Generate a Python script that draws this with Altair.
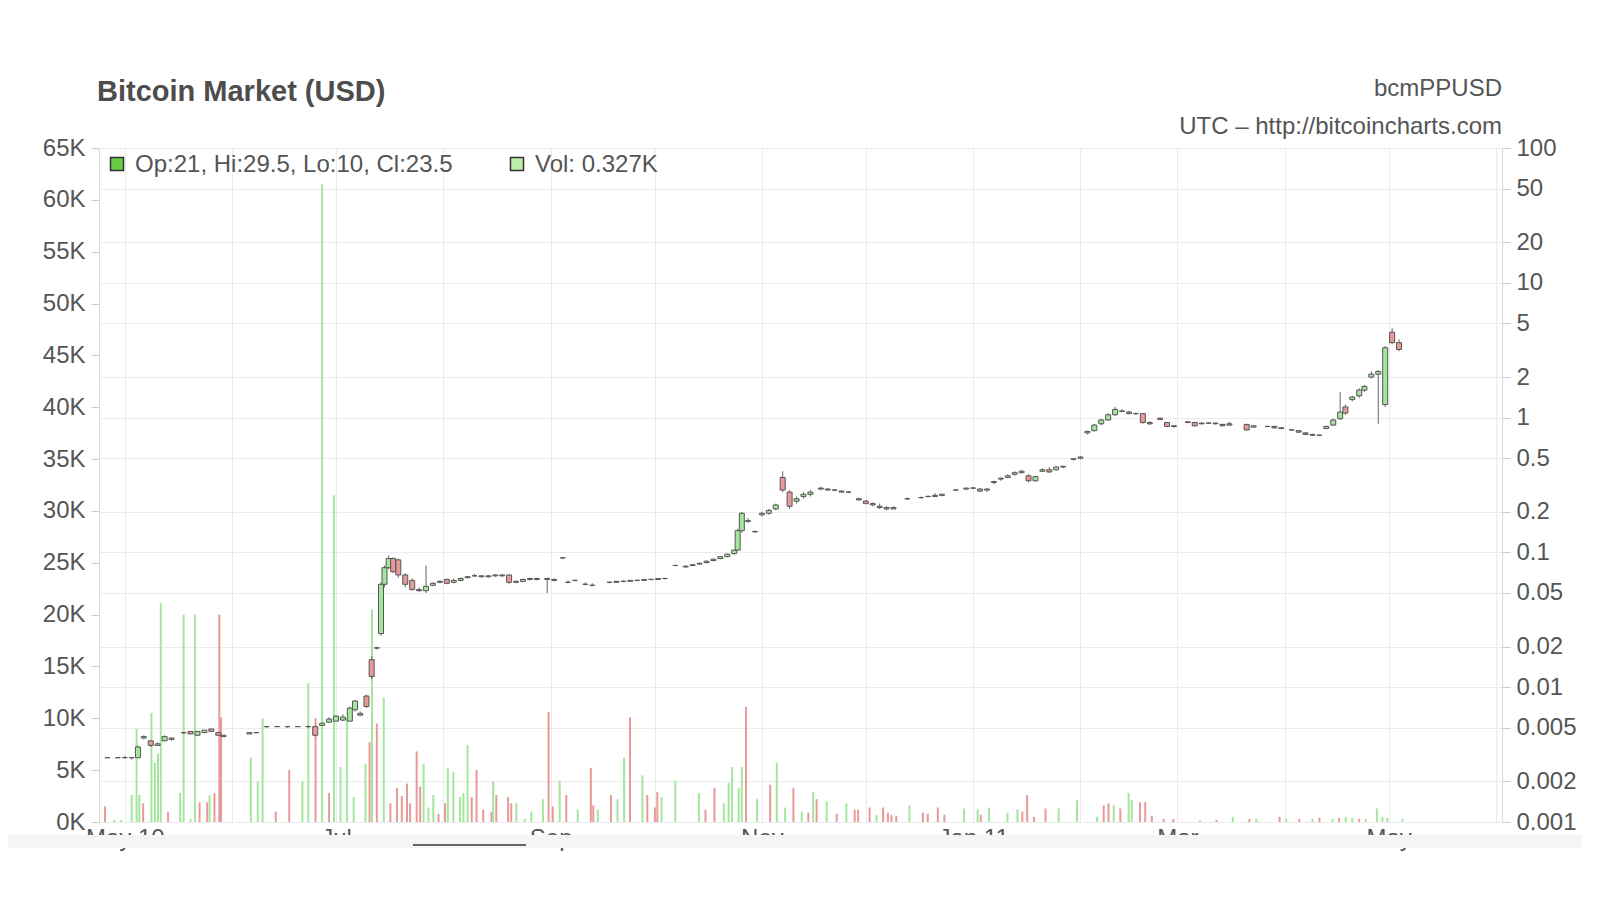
import altair as alt
import pandas as pd

START = pd.Timestamp("2010-04-25")

# ---------------- candles (day offset from START, USD prices) ----------------
c_day = [1, 4, 6, 8, 9.8, 11.5, 13.5, 15.5, 17.5, 19.5, 23, 25, 27, 29, 31, 33, 34.5,
         42, 44, 47, 50, 53, 56, 59, 61, 63, 65, 67, 69, 71, 72.5, 74, 75.8, 77.3, 78.8,
         80, 81, 82.2, 83.5, 85, 87, 89, 91, 93, 95, 97, 99, 101, 103, 105, 107, 109,
         111, 113, 115, 117, 119, 121, 123, 125, 128, 130, 132.5, 134, 136, 139, 141,
         146, 148, 150, 152, 154, 156, 158, 160, 162, 165, 168, 170, 172, 174, 176, 178,
         180, 182, 183, 184.2, 186, 188, 190, 192, 194, 196, 198, 200, 202, 204, 207,
         209, 211, 213, 215, 218, 220, 222, 224, 226, 228, 232, 236, 238, 240, 242, 246,
         249, 251, 253, 255, 257, 259, 261, 263, 265, 267, 269, 271, 273, 275, 277, 280,
         282, 284, 286, 288, 290, 292, 294, 296, 298, 300, 302, 305, 307, 309, 313, 315,
         317, 319, 321, 323, 325, 330, 332, 336, 338, 340, 343, 345, 347, 349, 351, 353,
         355, 357, 358.5, 360.5, 362.5, 364, 366, 368, 370, 372, 374]
c_open = [.0030, .0030, .0030, .0030, .0030, .0042, .0040, .0037, .0040, .0042, .0046, .0047, .0044, .0046, .0049, .0046, .0044,
          .0046, .0046, .0051, .0051, .0051, .0051, .0051, .0051, .0052, .0055, .0056, .0057, .0056, .0068, .0064, .0086, .0160, .0195,
          .025, .058, .077, .090, .088, .068, .062, .053, .052, .057, .060, .063, .060, .062, .065, .067, .067,
          .066, .067, .068, .068, .060, .061, .063, .064, .064, .062, .091, .060, .062, .058, .057,
          .060, .060, .061, .061, .062, .062, .063, .063, .064, .080, .078, .080, .082, .084, .087, .090,
          .093, .098, .104, .145, .170, .142, .190, .195, .210, .360, .280, .240, .260, .270, .300,
          .295, .290, .285, .280, .250, .240, .230, .220, .210, .215, .250, .255, .260, .265, .265, .290,
          .295, .300, .295, .290, .330, .350, .360, .380, .390, .370, .340, .400, .410, .410, .430, .490,
          .500, .770, .800, .900, .960, 1.05, 1.12, 1.10, 1.07, 1.07, .920, .990, .920, .860, .930, .920,
          .900, .910, .910, .890, .900, .890, .850, .860, .860, .840, .810, .800, .770, .750, .740, .830,
          .880, .980, 1.20, 1.36, 1.45, 1.60, 2.00, 2.10, 1.25, 4.30, 3.60]
c_high = [.0030, .0030, .0031, .0030, .0037, .0044, .0040, .0039, .0044, .0042, .0046, .0047, .0047, .0048, .0049, .0046, .0044,
          .0046, .0046, .0051, .0051, .0051, .0051, .0052, .0052, .0055, .0060, .0062, .0063, .0072, .0080, .0066, .0088, .0170, .0200,
          .060, .080, .095, .092, .090, .070, .064, .055, .080, .060, .062, .064, .064, .065, .067, .069, .068,
          .068, .069, .069, .069, .062, .064, .065, .065, .065, .064, .092, .062, .063, .060, .059,
          .061, .061, .062, .062, .063, .063, .064, .064, .065, .081, .080, .082, .084, .087, .090, .094,
          .098, .105, .150, .200, .180, .145, .200, .210, .230, .400, .290, .260, .280, .290, .305,
          .300, .295, .290, .285, .255, .245, .235, .230, .220, .220, .255, .260, .265, .275, .270, .295,
          .300, .305, .300, .300, .340, .360, .380, .400, .410, .380, .370, .420, .430, .435, .440, .500,
          .520, .800, .900, .980, 1.08, 1.20, 1.16, 1.12, 1.09, 1.08, .940, 1.00, .930, .880, .940, .930,
          .920, .920, .920, .900, .930, .900, .880, .870, .870, .850, .820, .810, .780, .760, .750, .870,
          .980, 1.55, 1.25, 1.45, 1.65, 1.75, 2.20, 2.25, 3.40, 4.60, 3.80]
c_low = [.0030, .0030, .0030, .0029, .0030, .0041, .0036, .0037, .0040, .0040, .0045, .0045, .0044, .0046, .0047, .0044, .0043,
         .0045, .0046, .0050, .0051, .0050, .0051, .0050, .0043, .0052, .0055, .0056, .0056, .0056, .0066, .0061, .0070, .0115, .0190,
         .024, .055, .075, .070, .065, .055, .052, .051, .050, .056, .059, .058, .059, .061, .064, .066, .065,
         .065, .066, .066, .058, .059, .060, .062, .062, .050, .061, .090, .059, .061, .057, .056,
         .059, .060, .060, .061, .061, .062, .062, .063, .063, .079, .077, .079, .081, .083, .086, .089,
         .092, .096, .103, .140, .165, .140, .185, .190, .205, .280, .210, .230, .250, .260, .290,
         .290, .285, .280, .275, .245, .230, .220, .210, .205, .210, .245, .250, .255, .260, .260, .285,
         .290, .295, .280, .280, .320, .340, .355, .370, .385, .330, .335, .395, .390, .405, .420, .480,
         .490, .750, .790, .880, .950, 1.03, 1.10, 1.06, 1.05, .900, .880, .960, .850, .840, .910, .860,
         .890, .900, .890, .860, .870, .800, .840, .850, .830, .820, .800, .770, .740, .730, .730, .820,
         .870, .960, 1.05, 1.32, 1.40, 1.55, 1.95, .900, 1.20, 3.50, 3.10]
c_close = [.0030, .0030, .0030, .0030, .0036, .0043, .0037, .0038, .0043, .0041, .0046, .0045, .0047, .0048, .0047, .0044, .0043,
           .0045, .0046, .0051, .0051, .0051, .0051, .0051, .0044, .0054, .0058, .0061, .0060, .0070, .0079, .0062, .0072, .0120, .0196,
           .058, .077, .090, .072, .068, .058, .053, .052, .056, .059, .061, .059, .062, .064, .066, .067, .066,
           .067, .068, .067, .060, .061, .063, .064, .063, .063, .063, .091, .060, .062, .058, .057,
           .060, .061, .061, .062, .062, .063, .063, .064, .064, .080, .079, .081, .083, .086, .089, .093,
           .097, .104, .145, .195, .172, .143, .195, .205, .225, .290, .220, .250, .270, .280, .295,
           .290, .290, .280, .280, .245, .230, .225, .215, .215, .210, .250, .255, .260, .260, .270, .290,
           .300, .300, .285, .295, .335, .355, .370, .390, .400, .340, .365, .410, .395, .430, .435, .495,
           .510, .790, .880, .960, 1.05, 1.15, 1.11, 1.07, 1.07, .920, .900, .970, .860, .870, .920, .870,
           .910, .910, .900, .870, .880, .810, .870, .860, .840, .830, .810, .780, .750, .740, .740, .860,
           .960, 1.10, 1.08, 1.42, 1.60, 1.70, 2.10, 2.20, 3.30, 3.60, 3.20]

# ---------------- volume (day offset, thousands, up/down) ----------------
v_day = [0.3, 3, 5, 8, 9.4, 10.2, 11.3, 13.7, 14.7, 15.6, 16.4, 18.5, 22, 23, 25, 26.3, 27.6, 29.8,
         30.5, 31.9, 33.3, 33.8, 42.4, 44.4, 45.8, 49.6, 53.5, 57.3, 59, 61.1, 63, 65, 66.4, 68.3,
         70.2, 72.1, 75.5, 76.7, 77.4, 78.8, 80.8, 82.7, 84.6, 86, 87.5, 88.4, 90.3, 91.3, 92.3, 93.7,
         95.1, 96.6, 98.5, 99.3, 100.9, 102.8, 103.8, 105, 106.2, 107.6, 109.5, 111.9, 112.4, 113.3,
         116.7, 117.6, 119.1, 121.5, 123.4, 126.8, 128.4, 129.6, 131.6, 133.5, 136.8, 140.6, 141.3,
         142.6, 146.4, 148.3, 150.2, 151.9, 155.5, 156.9, 159.1, 159.8, 161, 165, 171.8, 173.7, 176.3,
         179, 180.4, 181.4, 183.3, 184.2, 185.4, 188.6, 192.4, 194.3, 196.7, 199.1, 201.5, 203.4,
         204.8, 205.8, 208.7, 211.6, 214.4, 216.8, 217.8, 221.1, 223.1, 225, 226.4, 227.4, 228.8,
         232.6, 236.5, 237.9, 240.8, 242.7, 248.4, 252.3, 253.2, 255.6, 260.9, 263.8, 265.2, 266.6,
         268.6, 271.9, 275.7, 281, 286.8, 288.7, 290.1, 291.6, 293.5, 295.9, 296.8, 299.2, 300.7,
         302.6, 306, 308.8, 316.5, 321.3, 326, 330.8, 332.8, 339.5, 341.4, 345.2, 349, 351, 354.8,
         356.7, 358.6, 360.5, 362.5, 364.4, 367.6, 369.2, 370.6, 375]
v_k = [1.5, 0.2, 0.2, 2.6, 9.0, 2.6, 1.8, 10.5, 5.7, 6.6, 21.1, 1.0, 2.8, 20.0, 0.3, 20.0, 1.9, 1.9,
       2.6, 2.8, 20.0, 10.1, 6.2, 3.9, 10.0, 1.0, 5.0, 3.9, 13.4, 10.0, 61.5, 2.8, 31.5, 5.3,
       10.0, 2.4, 5.6, 7.7, 20.5, 9.5, 12.0, 1.8, 3.3, 2.5, 3.7, 1.8, 6.8, 3.4, 5.6, 1.4,
       2.6, 0.8, 1.8, 5.2, 4.8, 2.4, 2.8, 7.4, 2.4, 5.0, 1.2, 1.0, 3.9, 2.6,
       2.4, 1.8, 1.8, 0.3, 1.0, 2.2, 10.6, 1.5, 4.0, 2.6, 1.2, 5.2, 1.6,
       1.2, 2.6, 2.2, 6.2, 10.1, 4.5, 2.6, 1.4, 2.9, 2.4, 4.0, 2.8, 1.2, 3.3,
       1.8, 3.8, 5.3, 3.3, 5.3, 11.1, 2.2, 3.6, 5.7, 1.4, 3.3, 1.0, 0.9,
       2.9, 2.2, 2.0, 0.8, 1.8, 1.2, 1.2, 1.4, 0.7, 1.4, 0.9, 0.7, 0.6,
       1.6, 0.9, 0.8, 1.4, 0.7, 1.3, 1.2, 0.7, 1.4, 0.9, 1.2, 1.0, 2.6,
       0.5, 1.3, 1.3, 2.1, 0.5, 1.6, 1.8, 1.6, 1.3, 2.8, 2.1, 1.9, 1.9,
       0.6, 0.3, 0.3, 0.2, 0.2, 0.5, 0.3, 0.3, 0.5, 0.3, 0.3, 0.3, 0.4, 0.3,
       0.4, 0.5, 0.4, 0.3, 0.3, 1.3, 0.5, 0.4, 0.3]
v_dir = ["d", "u", "u", "u", "u", "u", "d", "u", "u", "u", "u", "d", "u", "u", "u", "u", "d", "d",
         "u", "d", "d", "d", "u", "u", "u", "d", "d", "u", "u", "d", "u", "d", "u", "u",
         "u", "u", "u", "d", "u", "d", "u", "d", "d", "d", "d", "d", "d", "d", "u", "u",
         "u", "d", "d", "u", "u", "u", "u", "u", "d", "d", "d", "d", "u", "d",
         "d", "d", "u", "u", "u", "u", "d", "d", "u", "d", "u", "d", "d",
         "u", "d", "u", "u", "d", "u", "d", "d", "d", "u", "u", "u", "d", "d",
         "u", "u", "u", "u", "u", "d", "u", "d", "u", "u", "d", "u", "d",
         "u", "d", "u", "d", "u", "d", "d", "d", "u", "d", "d", "d", "d",
         "u", "d", "d", "d", "d", "u", "u", "d", "u", "u", "u", "d", "d",
         "d", "d", "u", "u", "u", "d", "d", "u", "d", "u", "u", "d", "d",
         "d", "d", "d", "u", "d", "u", "d", "u", "d", "u", "d", "u", "d", "u",
         "d", "u", "u", "d", "u", "u", "u", "u", "u"]

price_ticks = [0.001, 0.002, 0.005, 0.01, 0.02, 0.05, 0.1, 0.2, 0.5, 1, 2, 5, 10, 20, 50, 100]
vol_ticks = list(range(0, 66, 5))
month_ticks = [(2010, 5), (2010, 6), (2010, 7), (2010, 8), (2010, 9), (2010, 10), (2010, 11),
               (2010, 12), (2011, 1), (2011, 2), (2011, 3), (2011, 4), (2011, 5), (2011, 6)]

# ---------------- tables ----------------
candles = pd.DataFrame({"d": c_day, "open": c_open, "high": c_high, "low": c_low, "close": c_close})
candles["t"] = START + pd.to_timedelta(candles["d"], unit="D")
candles["lo_b"] = candles[["open", "close"]].min(axis=1)
candles["hi_b"] = candles[["open", "close"]].max(axis=1)
candles["dir"] = ["u" if c >= o else "d" for o, c in zip(candles["open"], candles["close"])]

volume = pd.DataFrame({"d": v_day, "v": v_k, "dir": v_dir})
volume["t"] = START + pd.to_timedelta(volume["d"], unit="D")

W, H = 1403, 674
FONT = "Liberation Sans"
LBL = "#555555"
GRID = "#ebebeb"

x_scale = alt.Scale(domain=[alt.DateTime(year=2010, month=4, date=25),
                            alt.DateTime(year=2011, month=6, date=1, hours=7)])
x_axis = alt.Axis(
    values=[alt.DateTime(year=y, month=m, date=1) for y, m in month_ticks],
    labelExpr=("month(datum.value) % 2 == 0 ? (timeFormat(datum.value, '%b') + "
               "((month(datum.value) == 0 || (year(datum.value) == 2010 && month(datum.value) == 4)) "
               "? ' ' + timeFormat(datum.value, '%y') : '')) : ''"),
    grid=True, gridColor=GRID, ticks=False, domain=False, labelPadding=4,
    labelFontSize=24, labelColor=LBL, labelFont=FONT, labelFlush=False,
    labelOverlap=False, title=None, zindex=0)

price_scale = alt.Scale(type="log", domain=[0.001, 100], nice=False)
price_axis = alt.Axis(orient="right", values=price_ticks, format="~g", grid=True,
                      gridColor=GRID, tickSize=8, tickColor="#cccccc", domain=False,
                      labelPadding=6, labelFontSize=24, labelColor=LBL, labelFont=FONT,
                      title=None, zindex=0)

X = alt.X("t:T", scale=x_scale, axis=x_axis)

vol = alt.Chart(volume).mark_bar(size=2).encode(
    x=X,
    y=alt.Y("v:Q", scale=alt.Scale(domain=[0, 65], nice=False, zero=True),
            axis=alt.Axis(orient="left", values=vol_ticks, labelExpr="datum.value + 'K'",
                          grid=False, tickSize=8, tickColor="#cccccc", domain=False,
                          labelPadding=6, labelFontSize=24, labelColor=LBL, labelFont=FONT,
                          title=None, zindex=0)),
    color=alt.Color("dir:N", scale=alt.Scale(domain=["u", "d"], range=["#a4e69c", "#e79a98"]),
                    legend=None),
)

wick = alt.Chart(candles).mark_rule(color="#666666", strokeWidth=1).encode(
    x=X,
    y=alt.Y("low:Q", scale=price_scale, axis=price_axis),
    y2="high:Q",
)
body = alt.Chart(candles).mark_bar(size=5, stroke="#555555", strokeWidth=1).encode(
    x=X,
    y=alt.Y("lo_b:Q", scale=price_scale, axis=price_axis),
    y2="hi_b:Q",
    color=alt.Color("dir:N", scale=alt.Scale(domain=["u", "d"], range=["#72c960", "#b5504b"]),
                    legend=None),
)
price = alt.layer(wick, body)

one = pd.DataFrame({"k": [0]})

title = alt.Chart(pd.DataFrame({"s": ["Bitcoin Market (USD)"]})).mark_text(
    align="left", baseline="alphabetic", font=FONT, fontSize=29, fontWeight="bold",
    color="#4d4d4d").encode(x=alt.value(-2), y=alt.value(-47), text="s:N")

leg_sq1 = alt.Chart(one).mark_square(size=170, filled=True, color="#66cc44", stroke="#333333",
                                     strokeWidth=1.5, opacity=1).encode(
    x=alt.value(18), y=alt.value(16))
leg_sq2 = alt.Chart(one).mark_square(size=170, filled=True, color="#b9efa8", stroke="#333333",
                                     strokeWidth=1.5, opacity=1).encode(
    x=alt.value(418), y=alt.value(16))
leg_t1 = alt.Chart(pd.DataFrame({"s": ["Op:21, Hi:29.5, Lo:10, Cl:23.5"]})).mark_text(
    align="left", baseline="middle", font=FONT, fontSize=24, color=LBL).encode(
    x=alt.value(36), y=alt.value(17), text="s:N")
leg_t2 = alt.Chart(pd.DataFrame({"s": ["Vol: 0.327K"]})).mark_text(
    align="left", baseline="middle", font=FONT, fontSize=24, color=LBL).encode(
    x=alt.value(436), y=alt.value(17), text="s:N")

hdr1 = alt.Chart(pd.DataFrame({"s": ["bcmPPUSD"]})).mark_text(
    align="right", baseline="alphabetic", font=FONT, fontSize=24, color=LBL).encode(
    x=alt.value(W), y=alt.value(-52), text="s:N")
hdr2 = alt.Chart(pd.DataFrame({"s": ["UTC \u2013 http://bitcoincharts.com"]})).mark_text(
    align="right", baseline="alphabetic", font=FONT, fontSize=24, color=LBL).encode(
    x=alt.value(W), y=alt.value(-14), text="s:N")

band = alt.Chart(one).mark_rect(color="#f3f5f7").encode(
    x=alt.value(-91), x2=alt.value(W + 80), y=alt.value(H + 13), y2=alt.value(H + 26))
thumb = alt.Chart(one).mark_rule(color="#666666", strokeWidth=2).encode(
    x=alt.value(314), x2=alt.value(427), y=alt.value(H + 23))

chart = alt.layer(vol, price, title, leg_sq1, leg_sq2, leg_t1, leg_t2, hdr1, hdr2, band, thumb).resolve_scale(
    y="independent"
).properties(
    width=W, height=H,
    autosize=alt.AutoSizeParams(type="none"),
    padding={"left": 91, "top": 140, "right": 80, "bottom": 50},
    background="white",
).configure_view(stroke="#d9d9d9")

chart.save("out.html", embed_options={"renderer": "svg", "actions": False})
